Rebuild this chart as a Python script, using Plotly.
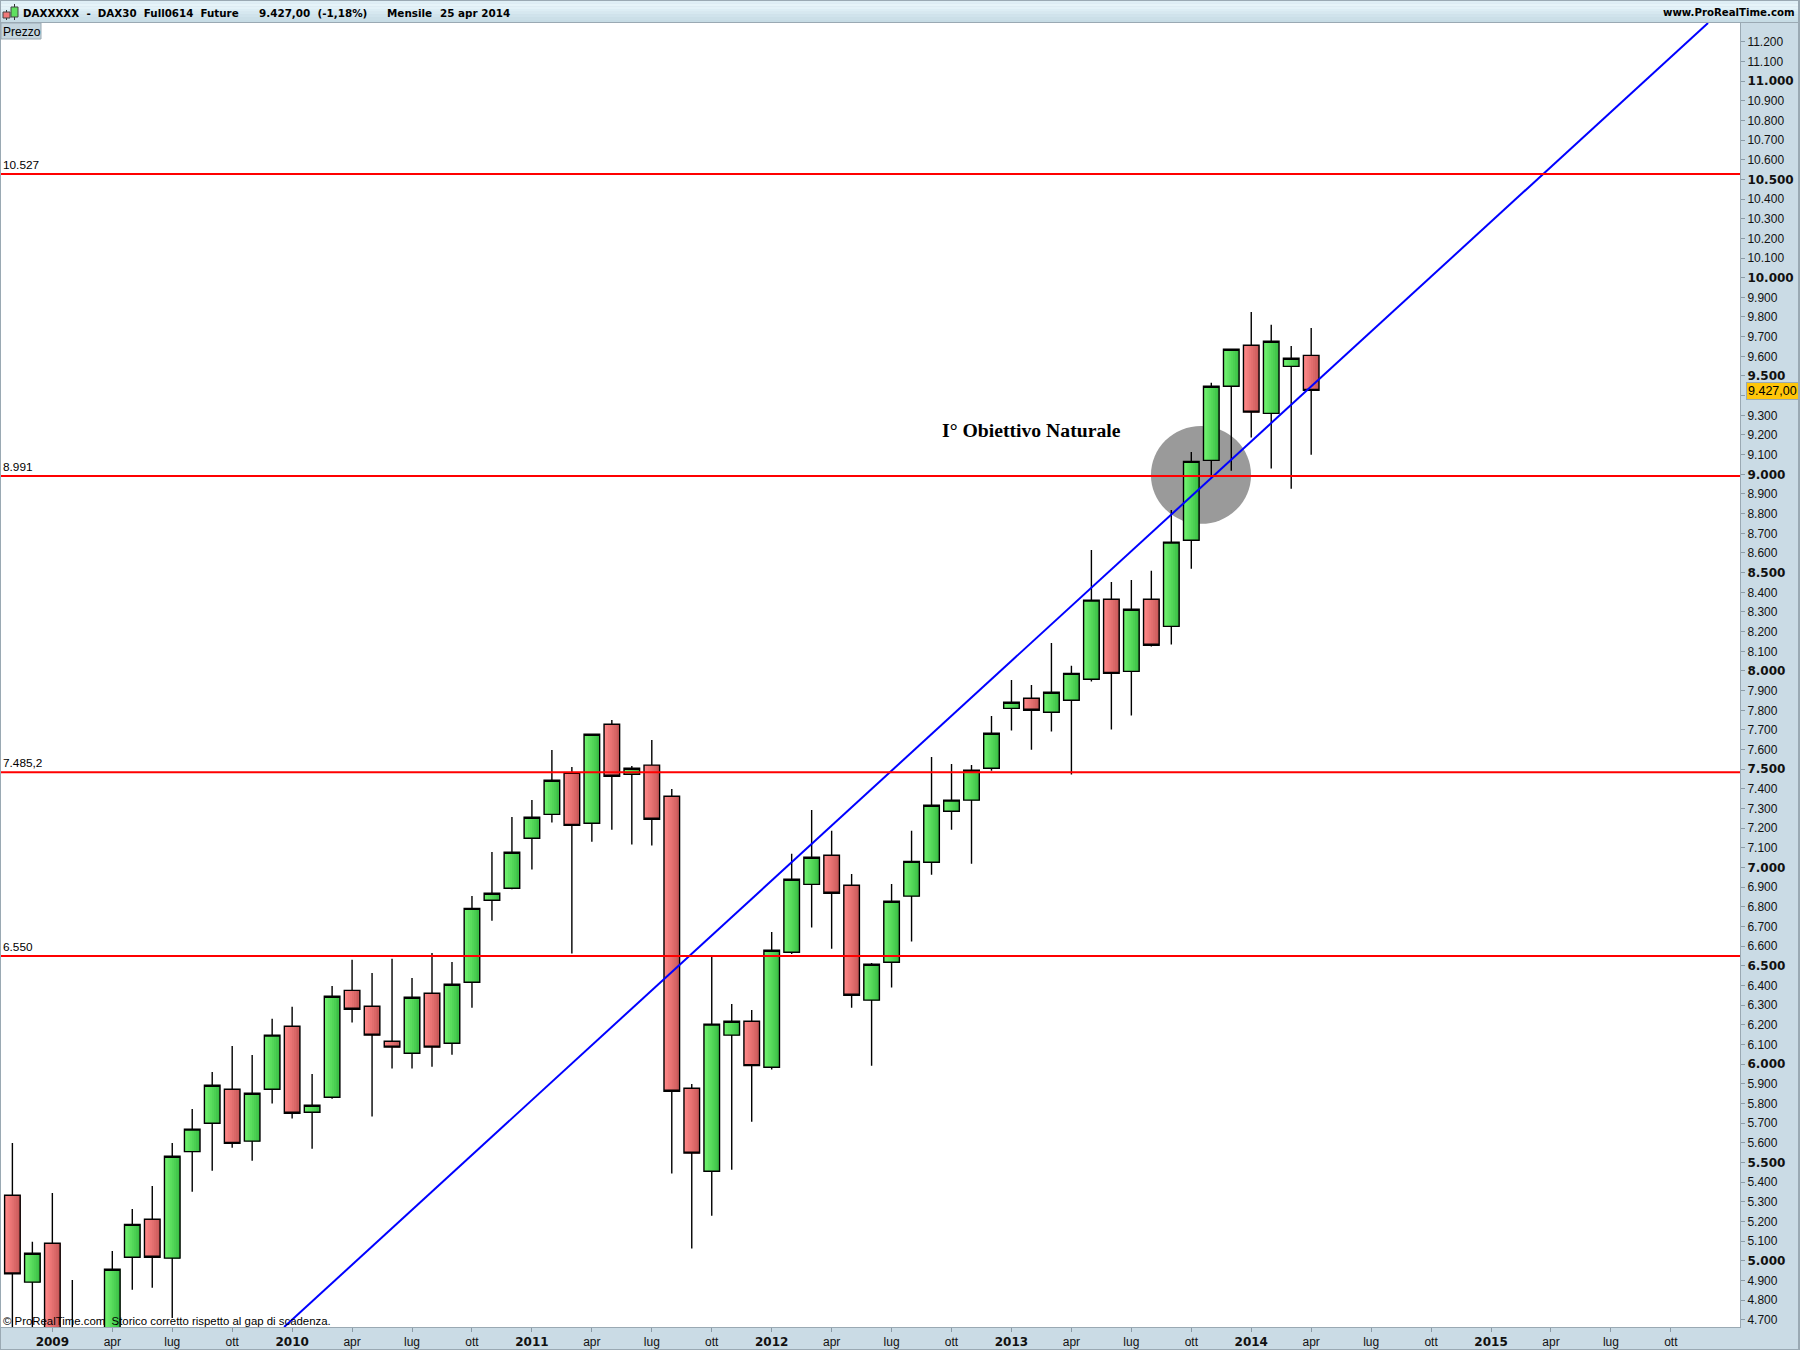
import plotly.graph_objects as go

month_index = list(range(-2, 64))
high_prices = [5600,5097,5346,4903,4550,5050,5264,5381,5600,5773,5961,6093,6047,6231,
               6292,5951,6398,6531,6464,6536,6439,6566,6520,6856,7080,7258,
               7344,7598,7512,7680,7751,7517,7649,7400,5900,6547,6307,6276,
               6673,7070,7293,7187,6968,6515,6917,7187,7563,7527,7522,7771,
               7954,7929,8142,8026,8615,8453,8463,8509,8819,9114,9465,9640,
               9826,9760,9653,9744]
open_prices = [5334,4892,5090,4550,4050,4300,5019,5212,5014,5556,5700,5873,5609,5873,
               6193,5756,5832,6376,6295,6117,6056,6361,6107,6417,6834,6895,
               7149,7271,7480,7226,7729,7475,7521,7363,5878,5456,6148,6219,
               5985,6570,6915,7063,6910,6326,6519,6855,7027,7287,7343,7505,
               7810,7861,7790,7851,7958,8365,7998,8365,8227,8665,9071,9448,
               9656,9310,9549,9605]
close_prices = [4934,5039,4550,4050,4300,4958,5186,5019,5532,5670,5893,5598,5853,6148,
                5751,5792,6346,6280,6148,6087,6341,6087,6407,6793,6870,7078,
                7256,7444,7215,7678,7465,7505,7246,5863,5548,6204,6219,5993,
                6580,6941,7053,6870,6351,6509,6829,7032,7317,7343,7495,7683,
                7841,7800,7892,7988,8360,7988,8314,8131,8655,9066,9448,9636,
                9316,9677,9590,9427]
low_prices = [4400,4500,4400,3950,3750,4200,4853,4864,4710,5352,5459,5576,5510,5800,
              5724,5571,5825,6212,5734,5978,5978,5988,6049,6288,6730,6890,
              6990,7229,6563,7132,7193,7117,7112,5444,5063,5230,5464,5708,
              5973,6561,6695,6588,6288,5993,6390,6624,6964,7193,7020,7493,
              7697,7600,7692,7473,7946,7702,7773,8125,8134,8520,8991,9018,
              9187,9029,8927,9100]

x_tick_values = list(range(0, 84, 3))
x_tick_names = ["2009","apr","lug","ott","2010","apr","lug","ott","2011","apr","lug","ott",
                "2012","apr","lug","ott","2013","apr","lug","ott","2014","apr","lug","ott",
                "2015","apr","lug","ott"]
y_tick_values = list(range(4700, 11300, 100))
y_hidden_label = 9400  # covered by the price tag in the reference
red_levels = [10527, 8991, 7485.2, 6550]
red_labels = ["10.527", "8.991", "7.485,2", "6.550"]
trend_x = [11.6, 82.86]
trend_y = [4664, 11295]
X_RANGE = [-2.57, 84.46]
Y_RANGE = [4664, 11295]
W, H = 1800, 1350
L, R, T, B = 1, 60, 23, 23
PW, PH = W - L - R, H - T - B

def px(x): return (x - L) / PW
def py(y): return (H - B - y) / PH

SANS = "Liberation Sans"
BOLD = "DejaVu Sans"
fig = go.Figure()

# body gradient: slices that all end at the right edge of the body
N = 8
BODY = 0.78
green_l, green_r = (112, 243, 112), (60, 192, 70)
red_l, red_r = (255, 136, 136), (203, 90, 90)
def mix(a, b, t):
    return "rgb(%d,%d,%d)" % tuple(round(a[j] + (b[j] - a[j]) * t) for j in range(3))
bases = [min(o, c) for o, c in zip(open_prices, close_prices)]
sizes = [abs(o - c) for o, c in zip(open_prices, close_prices)]
for k in range(N):
    t = k / (N - 1)
    cols = [mix(green_l, green_r, t) if c >= o else mix(red_l, red_r, t)
            for o, c in zip(open_prices, close_prices)]
    fig.add_trace(go.Bar(x=month_index, y=sizes, base=bases,
                         offset=-BODY / 2 + BODY * k / N, width=BODY * (1 - k / N),
                         marker=dict(color=cols, line=dict(width=0)),
                         showlegend=False, hoverinfo="skip"))

clear = "rgba(0,0,0,0)"
fig.add_trace(go.Candlestick(x=month_index, open=open_prices, high=high_prices,
                             low=low_prices, close=close_prices, whiskerwidth=0,
                             increasing=dict(line=dict(color="black", width=1.4), fillcolor=clear),
                             decreasing=dict(line=dict(color="black", width=1.4), fillcolor=clear),
                             showlegend=False, name="DAX30"))
fig.add_trace(go.Scatter(x=trend_x, y=trend_y, mode="lines",
                         line=dict(color="#0000ff", width=2), showlegend=False))
for lvl in red_levels:
    fig.add_trace(go.Scatter(x=X_RANGE, y=[lvl, lvl], mode="lines",
                             line=dict(color="#ff0000", width=2), showlegend=False))

shapes = []
def rect(x0, y0, x1, y1, fill, line=None, layer="above"):
    shapes.append(dict(type="rect", xref="paper", yref="paper", layer=layer,
                       x0=px(x0), x1=px(x1), y0=py(y0), y1=py(y1),
                       fillcolor=fill, line=dict(width=1 if line else 0, color=line or fill)))

shapes.append(dict(type="circle", xref="x", yref="y", layer="below",
                   x0=54.98, x1=59.99, y0=8748, y1=9246,
                   fillcolor="#9a9a9a", line=dict(width=0)))
# header band
band = ["#dfeff6", "#e6f4f9", "#e3f2f8", "#dcedf4", "#d6e8f0", "#d0e3ec", "#cbdfe8", "#c7dce5"]
for j, c in enumerate(band):
    rect(0, 1 + j * 2.7, W, 1 + (j + 1) * 2.7, c)
rect(0, 22, W, 23, "#9aa9b3")
rect(0, 0, W, 1, "#9aa9b3")
rect(0, 1349, W, 1350, "#9aa9b3")
rect(1798, 0, 1800, 1350, "#9aa9b3")
rect(0, 0, 1, 1350, "#9aa9b3")
# icon
shapes.append(dict(type="line", xref="paper", yref="paper", x0=px(6.5), x1=px(6.5), y0=py(10), y1=py(20), line=dict(color="#333", width=1)))
shapes.append(dict(type="line", xref="paper", yref="paper", x0=px(14.5), x1=px(14.5), y0=py(4), y1=py(20), line=dict(color="#333", width=1)))
rect(3, 12, 10, 18, "#f07878", "#444444")
rect(11, 7, 18, 17, "#60e060", "#444444")
# Prezzo tab
rect(1, 23, 41, 39, "#c4d5de", "#9aa9b3")

ann = []
def text(x, y, s, size=11, family=SANS, color="#000000", anchor="left", bold=False):
    ann.append(dict(xref="paper", yref="paper", x=px(x), y=py(y), text=("<b>%s</b>" % s) if bold else s,
                    showarrow=False, xanchor=anchor, yanchor="middle",
                    font=dict(size=size, family=family, color=color)))

text(21, 13, "DAXXXXX  -  DAX30  Full0614  Future", 10.3, BOLD, bold=True)
text(257, 13, "9.427,00  (-1,18%)", 10.4, BOLD, bold=True)
text(385, 13, "Mensile", 10.4, BOLD, bold=True)
text(438, 13, "25 apr 2014", 10.4, BOLD, bold=True)
text(1797, 13, "www.ProRealTime.com", 10.2, BOLD, anchor="right", bold=True)
text(1, 32, "Prezzo", 12)
text(1, 1321, "© ProRealTime.com  Storico corretto rispetto al gap di scadenza.", 11.4)
for lvl, lab in zip(red_levels, red_labels):
    ann.append(dict(xref="paper", yref="y", x=px(1), y=lvl, text=lab, showarrow=False,
                    xanchor="left", yanchor="bottom", yshift=0,
                    font=dict(size=11.8, family=SANS, color="#000000")))
ann.append(dict(xref="x", yref="y", x=48.98, y=9231, text="<b>I° Obiettivo Naturale</b>", yshift=-1,
                showarrow=False, font=dict(size=19.7, family="Liberation Serif", color="#000000")))
ann.append(dict(xref="paper", yref="y", x=px(1746), y=9427, text="9.427,00", showarrow=False, yshift=-1,
                xanchor="left", bgcolor="#ffc60a", bordercolor="#9aa9b3", borderwidth=1, borderpad=1,
                font=dict(size=12.5, family=SANS, color="#000000")))

def fmt_y(v):
    if v == y_hidden_label:
        return ""
    s = f"{v:,}".replace(",", ".")
    if v % 500 == 0:
        return f'<span style="font-family:DejaVu Sans;font-weight:bold">{s}</span>'
    return s
def fmt_x(s):
    if s.isdigit():
        return f'<span style="font-family:DejaVu Sans;font-weight:bold">{s}</span>'
    return s

fig.update_layout(
    width=W, height=H, autosize=False,
    margin=dict(l=L, r=R, t=T, b=B, pad=0),
    paper_bgcolor="#cadbe5", plot_bgcolor="#ffffff",
    barmode="overlay", boxgap=0.22, boxgroupgap=0, showlegend=False,
    shapes=shapes, annotations=ann,
    xaxis=dict(range=X_RANGE, tickmode="array", tickvals=x_tick_values,
               ticktext=[fmt_x(s) for s in x_tick_names], showgrid=False, zeroline=False,
               ticks="outside", ticklen=4, tickcolor="#8b9ba6", tickangle=0,
               showline=True, linecolor="#9aa9b3", linewidth=1,
               rangeslider=dict(visible=False),
               tickfont=dict(size=12, family=SANS, color="#111111")),
    yaxis=dict(range=Y_RANGE, side="right", tickmode="array", tickvals=y_tick_values,
               ticktext=[fmt_y(v) for v in y_tick_values], showgrid=False, zeroline=False,
               ticks="outside", ticklen=4, tickcolor="#8b9ba6",
               showline=True, linecolor="#9aa9b3", linewidth=1,
               tickfont=dict(size=12, family=SANS, color="#111111")),
)
fig.write_html("out.html", post_script="document.body.style.margin='0';", config={"displayModeBar": False})
